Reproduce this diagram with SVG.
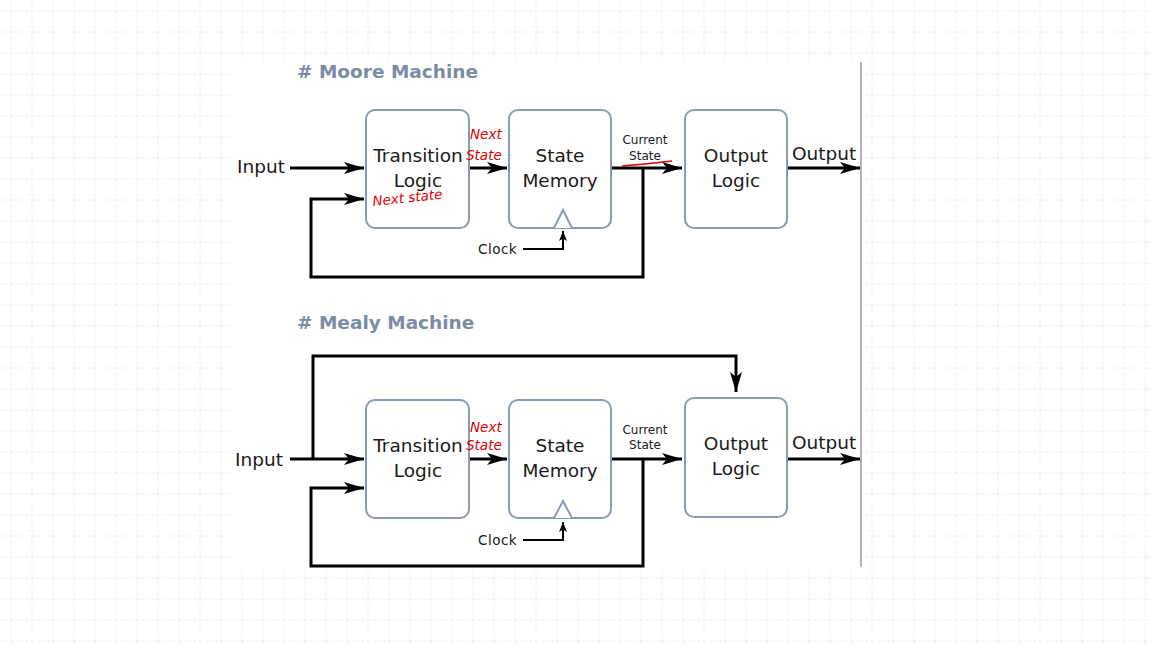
<svg xmlns="http://www.w3.org/2000/svg" width="1151" height="645" viewBox="0 0 1151 645">
<defs>
<pattern id="grid" x="10.5" y="10.5" width="21" height="21" patternUnits="userSpaceOnUse">
<path d="M0,0 H21 M0,0 V21" fill="none" stroke="#e0e0e0" stroke-width="1" stroke-dasharray="3,2"/>
</pattern>
<marker id="ah" markerUnits="userSpaceOnUse" markerWidth="22" markerHeight="14" refX="20" refY="6" orient="auto">
<path d="M0,0 L20,6 L0,12 L5,6 Z" fill="#000"/>
</marker>
<marker id="ahs" markerUnits="userSpaceOnUse" markerWidth="12" markerHeight="10" refX="10" refY="4" orient="auto">
<path d="M0,0 L10,4 L0,8 L2.5,4 Z" fill="#000"/>
</marker>
</defs>
<style>
.box{fill:#fff;stroke:#8a9ab0;stroke-width:2}
.lbl{font-family:"DejaVu Sans",sans-serif;font-size:18.5px;fill:#1a1a1a}
.sm{font-family:"DejaVu Sans",sans-serif;font-size:12px;fill:#1a1a1a}
.clk{font-family:"DejaVu Sans",sans-serif;font-size:13.5px;fill:#1a1a1a;letter-spacing:0.5px}
.title{font-family:"DejaVu Sans",sans-serif;font-size:18.5px;font-weight:bold;fill:#7a8ca4}
.wa{fill:none;stroke:#000;stroke-width:3;marker-end:url(#ah)}
.ck{fill:none;stroke:#000;stroke-width:2;marker-end:url(#ahs)}
.tri{fill:#fff;stroke:#8a9ab0;stroke-width:2}
.red{font-family:"DejaVu Sans",sans-serif;font-style:italic;font-size:13.5px;fill:#e00000}
</style>
<rect width="1151" height="645" fill="#fff"/>
<rect width="1151" height="645" fill="url(#grid)"/>
<rect x="236" y="62" width="625" height="505" fill="#fff"/>
<line x1="861" y1="62" x2="861" y2="567" stroke="#9a9a9a" stroke-width="1.5"/>

<text class="title" x="297" y="78"># Moore Machine</text>
<text class="title" x="297" y="329"># Mealy Machine</text>

<g id="connectors">
<path class="wa" d="M290,168 H364"/>
<path class="wa" d="M643,168 V277 H311 V199 H364"/>
<path class="wa" d="M469,168 H507"/>
<path class="wa" d="M611,168 H682"/>
<path class="wa" d="M787,168 H860"/>
<path class="ck" d="M523,249 H563 V231"/>
<path class="wa" d="M290,459 H364"/>
<path class="wa" d="M313,459 V356 H736 V392"/>
<path class="wa" d="M643,459 V566 H311 V488 H364"/>
<path class="wa" d="M469,459 H507"/>
<path class="wa" d="M611,459 H682"/>
<path class="wa" d="M787,459 H860"/>
<path class="ck" d="M523,540 H563 V522"/>
</g>

<g id="moore-transition">
<rect class="box" x="366" y="110" width="103" height="118" rx="9"/>
<text class="lbl" x="418" y="162" text-anchor="middle">Transition</text>
<text class="lbl" x="418" y="187" text-anchor="middle">Logic</text>
</g>
<g id="moore-state">
<rect class="box" x="509" y="110" width="102" height="118" rx="9"/>
<text class="lbl" x="560" y="162" text-anchor="middle">State</text>
<text class="lbl" x="560" y="187" text-anchor="middle">Memory</text>
<path class="tri" d="M554,228 L563,210 L572,228"/>
</g>
<g id="moore-output">
<rect class="box" x="685" y="110" width="102" height="118" rx="9"/>
<text class="lbl" x="736" y="162" text-anchor="middle">Output</text>
<text class="lbl" x="736" y="187" text-anchor="middle">Logic</text>
</g>
<g id="moore-labels">
<text class="lbl" x="237" y="173">Input</text>
<text class="lbl" x="792" y="160">Output</text>
<text class="sm" x="645" y="144" text-anchor="middle">Current</text>
<text class="sm" x="645" y="160" text-anchor="middle">State</text>
<text class="clk" x="478" y="254">Clock</text>
<text class="red" x="470" y="139">Next</text>
<text class="red" x="466" y="160">State</text>
<text class="red" x="373" y="206" transform="rotate(-6 373 206)">Next state</text>
<path d="M622,166 Q648,164 672,161" fill="none" stroke="#e00000" stroke-width="1.5"/>
</g>

<g id="mealy-transition">
<rect class="box" x="366" y="400" width="103" height="118" rx="9"/>
<text class="lbl" x="418" y="452" text-anchor="middle">Transition</text>
<text class="lbl" x="418" y="477" text-anchor="middle">Logic</text>
</g>
<g id="mealy-state">
<rect class="box" x="509" y="400" width="102" height="118" rx="9"/>
<text class="lbl" x="560" y="452" text-anchor="middle">State</text>
<text class="lbl" x="560" y="477" text-anchor="middle">Memory</text>
<path class="tri" d="M554,518 L563,501 L572,518"/>
</g>
<g id="mealy-output">
<rect class="box" x="685" y="398" width="102" height="119" rx="9"/>
<text class="lbl" x="736" y="450" text-anchor="middle">Output</text>
<text class="lbl" x="736" y="475" text-anchor="middle">Logic</text>
</g>
<g id="mealy-labels">
<text class="lbl" x="235" y="466">Input</text>
<text class="lbl" x="792" y="449">Output</text>
<text class="sm" x="645" y="434" text-anchor="middle">Current</text>
<text class="sm" x="645" y="449" text-anchor="middle">State</text>
<text class="clk" x="478" y="545">Clock</text>
<text class="red" x="470" y="432">Next</text>
<text class="red" x="466" y="450">State</text>
</g>
</svg>
